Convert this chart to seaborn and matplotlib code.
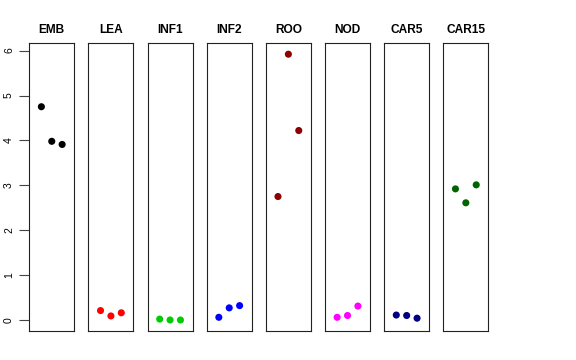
import matplotlib
matplotlib.use("Agg")
import matplotlib.pyplot as plt
import seaborn as sns
import pandas as pd

sns.set_style("white")
plt.rcParams['font.family'] = ['Liberation Sans', 'DejaVu Sans']

tissues = ["EMB", "LEA", "INF1", "INF2", "ROO", "NOD", "CAR5", "CAR15"]
colors = ["#000000", "#FF0000", "#00CD00", "#0000FF", "#8B0000", "#FF00FF", "#000080", "#006400"]
replicate = [1, 2, 3]
emb = [4.75, 3.98, 3.91]
lea = [0.21, 0.09, 0.16]
inf1 = [0.02, 0.00, 0.00]
inf2 = [0.06, 0.27, 0.32]
roo = [2.75, 5.92, 4.22]
nod = [0.06, 0.10, 0.31]
car5 = [0.11, 0.10, 0.04]
car15 = [2.92, 2.61, 3.01]
yticks = [0, 1, 2, 3, 4, 5, 6]

values = [emb, lea, inf1, inf2, roo, nod, car5, car15]
rows = []
for t, vals in zip(tissues, values):
    for r, v in zip(replicate, vals):
        rows.append({"tissue": t, "rep": r, "value": v})
df = pd.DataFrame(rows)

fig, axes = plt.subplots(1, len(tissues), figsize=(5.76, 3.6), dpi=100, sharey=True)
fig.subplots_adjust(left=0.0509, right=0.8477, top=0.8806, bottom=0.0806, wspace=0.318)

for ax, t, c in zip(axes, tissues, colors):
    sub = df[df["tissue"] == t]
    sns.scatterplot(data=sub, x="rep", y="value", color=c, s=26, edgecolor="none", ax=ax, legend=False)
    ax.set_xlim(-0.16, 4.16)
    ax.set_ylim(-0.245, 6.17)
    ax.set_xticks([])
    ax.set_xlabel("")
    ax.set_ylabel("")
    ax.set_title(t, fontsize=8.6, fontweight="bold", color="black", pad=7.2)
    for sp in ax.spines.values():
        sp.set_visible(True)
        sp.set_color("#222222")
        sp.set_linewidth(0.8)
    ax.tick_params(axis="y", left=False, labelleft=False)

ax0 = axes[0]
ax0.set_yticks(yticks)
ax0.set_yticklabels([str(v) for v in yticks], rotation=90, va="center", fontsize=7.5, color="black")
ax0.tick_params(axis="y", left=True, labelleft=True, length=7, width=0.8, color="#444444", pad=4)

fig.savefig("out.png", dpi=100, facecolor="white")
